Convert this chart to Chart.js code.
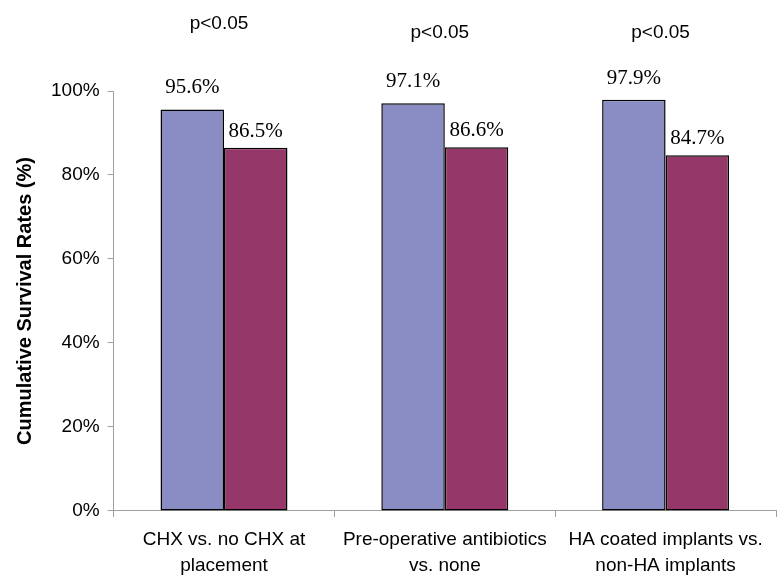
<!DOCTYPE html>
<html>
<head>
<meta charset="utf-8">
<script src="https://cdn.jsdelivr.net/npm/chart.js@4"></script>
<style>
  html, body { margin: 0; padding: 0; background: #fff; }
  #wrap { width: 783px; height: 579px; }
</style>
</head>
<body>
<div id="wrap"><canvas id="survivalChart" width="783" height="579"></canvas></div>
<script>
const categories = [
    ['CHX vs. no CHX at', 'placement'],
    ['Pre-operative antibiotics', 'vs. none'],
    ['HA coated implants vs.', 'non-HA implants']
];
const groupA = [95.6, 97.1, 97.9];
const groupB = [86.5, 86.6, 84.7];
const pLabels = ['p<0.05', 'p<0.05', 'p<0.05'];
const yTicks = [0, 20, 40, 60, 80, 100];

const ctx = document.getElementById('survivalChart');

// value labels above each bar
const barValueLabels = {
    id: 'barValueLabels',
    afterDatasetsDraw(chart, args, opts) {
        const c = chart.ctx;
        c.save();
        c.font = '21px "Liberation Serif", "Times New Roman", serif';
        c.fillStyle = '#000';
        c.textAlign = 'center';
        c.textBaseline = 'bottom';
        chart.data.datasets.forEach((ds, di) => {
            const meta = chart.getDatasetMeta(di);
            meta.data.forEach((bar, i) => {
                c.fillText(ds.data[i].toFixed(1) + '%', bar.x, bar.y - opts.offsets[di]);
            });
        });
        c.restore();
    }
};

// significance text over each group
const pValueLabels = {
    id: 'pValueLabels',
    afterDraw(chart, args, opts) {
        const c = chart.ctx;
        const xs = chart.scales.x;
        c.save();
        c.font = '19px "Liberation Sans", Arial, sans-serif';
        c.fillStyle = '#000';
        c.textAlign = 'center';
        c.textBaseline = 'middle';
        pLabels.forEach((txt, i) => {
            c.fillText(txt, xs.getPixelForValue(i) - 5, opts.y[i]);
        });
        c.restore();
    }
};

new Chart(ctx, {
    type: 'bar',
    data: {
        labels: categories,
        datasets: [{
            label: 'With',
            data: groupA,
            backgroundColor: '#8a8dc4',
            borderColor: '#000',
            borderWidth: 1.5,
            borderSkipped: false
        }, {
            label: 'Without',
            data: groupB,
            backgroundColor: '#953769',
            borderColor: '#000',
            borderWidth: 1.5,
            borderSkipped: false
        }]
    },
    options: {
        responsive: false,
        animation: false,
        layout: { padding: { top: 91, right: 7, left: 13, bottom: 0 } },
        datasets: { bar: { categoryPercentage: 0.575, barPercentage: 1 } },
        scales: {
            x: {
                afterFit: axis => { axis.height -= 10; },
                grid: { offset: true, drawOnChartArea: false, tickLength: 6, color: '#a0a0a0' },
                border: { color: '#a0a0a0' },
                ticks: {
                    color: '#000',
                    padding: 10,
                    maxRotation: 0,
                    font: { family: '"Liberation Sans", Arial, sans-serif', size: 19, lineHeight: 1.37 }
                }
            },
            y: {
                min: 0,
                max: 100,
                afterBuildTicks: axis => { axis.ticks = yTicks.map(v => ({ value: v })); },
                grid: { drawOnChartArea: false, tickLength: 6, color: '#a0a0a0' },
                border: { color: '#a0a0a0' },
                ticks: {
                    color: '#000',
                    padding: 8,
                    font: { family: '"Liberation Sans", Arial, sans-serif', size: 19 },
                    callback: v => v + '%'
                },
                title: {
                    display: true,
                    text: 'Cumulative Survival Rates (%)',
                    color: '#000',
                    padding: { top: 0, bottom: 6 },
                    font: { family: '"Liberation Sans", Arial, sans-serif', size: 20, weight: 'bold' }
                }
            }
        },
        plugins: {
            legend: { display: false },
            tooltip: { enabled: false },
            barValueLabels: { offsets: [11, 6] },
            pValueLabels: { y: [24, 33, 33] }
        }
    },
    plugins: [barValueLabels, pValueLabels]
});
</script>
</body>
</html>
